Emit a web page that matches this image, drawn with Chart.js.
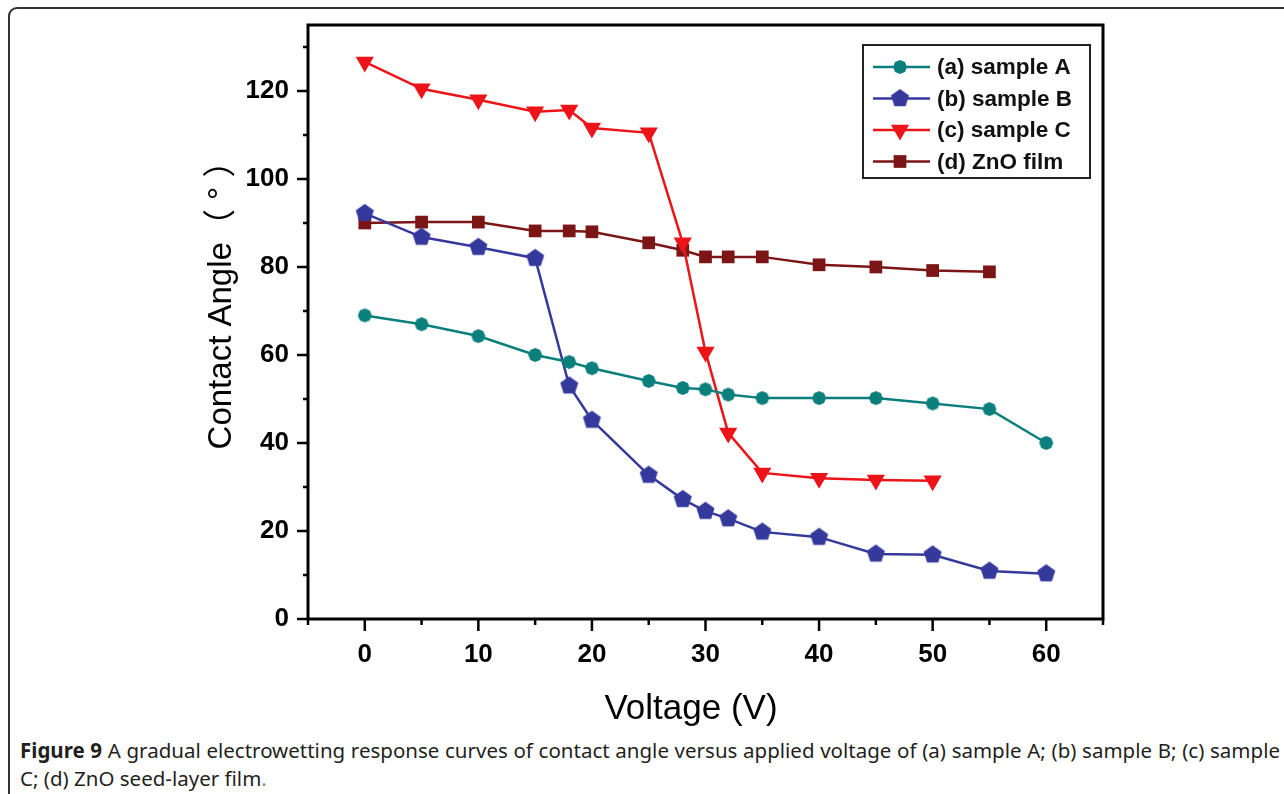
<!DOCTYPE html>
<html>
<head>
<meta charset="utf-8">
<script src="https://cdn.jsdelivr.net/npm/chart.js@4.4.1/dist/chart.umd.min.js"></script>
<style>
    html, body {
        margin: 0;
        padding: 0;
        background: #ffffff;
    }
    body {
        width: 1284px;
        height: 794px;
        position: relative;
        overflow: hidden;
    }
    .frame {
        position: absolute;
        left: 8px;
        top: 7px;
        width: 1300px;
        height: 820px;
        border-left: 2px solid #333;
        border-top: 2px solid #333;
        border-top-left-radius: 9px;
    }
    #chart {
        position: absolute;
        left: 0;
        top: 0;
    }
    .caption {
        position: absolute;
        left: 20px;
        top: 736px;
        width: 1260px;
        font-family: 'Noto Sans', 'Open Sans', sans-serif;
        font-size: 20.5px;
        line-height: 28px;
        color: #231f20;
    }
    .caption .line1 {
        white-space: nowrap;
        text-align: justify;
        text-align-last: justify;
    }
    .caption b {
        font-weight: 700;
    }
    .caption .dot {
        color: #888;
    }
</style>
</head>
<body>
<div class="frame"></div>
<canvas id="chart" width="1284" height="730"></canvas>
<div class="caption">
    <div class="line1"><b>Figure 9</b> A gradual electrowetting response curves of contact angle versus applied voltage of (a) sample A; (b) sample B; (c) sample</div>
    <div>C; (d) ZnO seed-layer film<span class="dot">.</span></div>
</div>

<script>
// Data
const voltage = [0, 5, 10, 15, 18, 20, 25, 28, 30, 32, 35, 40, 45, 50, 55, 60];
const sampleA = [69, 67, 64.3, 60, 58.4, 57, 54.1, 52.5, 52.2, 51, 50.2, 50.2, 50.2, 49, 47.7, 40];
const sampleB = [92.2, 86.8, 84.5, 82, 53, 45.2, 32.7, 27.2, 24.5, 22.8, 19.8, 18.6, 14.8, 14.6, 10.9, 10.3];
const sampleC = [126.6, 120.5, 118, 115.3, 115.7, 111.6, 110.5, 85.5, 60.7, 42.3, 33.2, 32, 31.6, 31.4];
const znoFilm = [90, 90.2, 90.2, 88.2, 88.2, 88, 85.5, 83.8, 82.3, 82.3, 82.3, 80.5, 80, 79.2, 78.9];

const seriesLabels = ['(a) sample A', '(b) sample B', '(c) sample C', '(d) ZnO film'];
const yTitle = 'Contact Angle\uFF08 \u00B0 \uFF09';
const xTitle = 'Voltage (V)';

const colors = {
    teal: '#0b7f7b',
    blue: '#35399c',
    red: '#ec1418',
    maroon: '#7c1616'
};

// Build a filled polygon marker on a small canvas (used as pointStyle)
function polygonMarker(sides, radius, color) {
    const size = Math.ceil(radius * 2 + 2);
    const c = document.createElement('canvas');
    c.width = size;
    c.height = size;
    const g = c.getContext('2d');
    g.fillStyle = color;
    g.beginPath();
    for (let i = 0; i < sides; i++) {
        const a = -Math.PI / 2 + i * 2 * Math.PI / sides;
        const px = size / 2 + Math.cos(a) * radius;
        const py = size / 2 + Math.sin(a) * radius;
        if (i === 0) g.moveTo(px, py); else g.lineTo(px, py);
    }
    g.closePath();
    g.fill();
    return c;
}

const markerA = polygonMarker(8, 7, colors.teal);
const markerB = polygonMarker(5, 9.5, colors.blue);

function pairs(ys) {
    return ys.map((y, i) => ({ x: voltage[i], y: y }));
}

function makeDataset(label, ys, color, style) {
    return {
        label: label,
        data: pairs(ys),
        borderColor: color,
        backgroundColor: color,
        borderWidth: 2.5,
        tension: 0,
        fill: false,
        pointStyle: style.pointStyle,
        pointRadius: style.radius,
        pointRotation: style.rotation || 0,
        pointBorderWidth: 0,
        pointBackgroundColor: color,
        pointBorderColor: color
    };
}

const datasets = [
    makeDataset(seriesLabels[0], sampleA, colors.teal, { pointStyle: markerA, radius: 7 }),
    makeDataset(seriesLabels[1], sampleB, colors.blue, { pointStyle: markerB, radius: 10 }),
    makeDataset(seriesLabels[2], sampleC, colors.red, { pointStyle: 'triangle', radius: 10.5, rotation: 180 }),
    makeDataset(seriesLabels[3], znoFilm, colors.maroon, { pointStyle: 'rect', radius: 9 })
];

// Frame, outward ticks (long major, short minor), axis titles and inset legend
const framePlugin = {
    id: 'originFrame',
    afterDraw(chart) {
        const ctx = chart.ctx;
        const area = chart.chartArea;
        const xs = chart.scales.x;
        const ys = chart.scales.y;

        ctx.save();
        ctx.strokeStyle = '#000';
        ctx.lineWidth = 3;
        ctx.strokeRect(area.left, area.top, area.right - area.left, area.bottom - area.top);

        ctx.lineWidth = 2.5;
        ctx.beginPath();
        xs.ticks.forEach(t => {
            const px = xs.getPixelForValue(t.value);
            const len = t.value % 10 === 0 ? 12 : 6;
            ctx.moveTo(px, area.bottom);
            ctx.lineTo(px, area.bottom + len);
        });
        ys.ticks.forEach(t => {
            const py = ys.getPixelForValue(t.value);
            const len = t.value % 20 === 0 ? 11 : 5;
            ctx.moveTo(area.left, py);
            ctx.lineTo(area.left - len, py);
        });
        ctx.stroke();

        // Axis titles
        ctx.fillStyle = '#000';
        ctx.textAlign = 'center';
        ctx.textBaseline = 'middle';
        ctx.font = '35px "Liberation Sans", Arial, "Noto Sans CJK SC", sans-serif';
        ctx.fillText(xTitle, 691, 709);

        ctx.save();
        ctx.translate(222, 297);
        ctx.rotate(-Math.PI / 2);
        ctx.font = '33px "Liberation Sans", Arial, "Noto Sans CJK SC", sans-serif';
        ctx.fillText(yTitle, 0, 0);
        ctx.restore();

        // Inset legend
        const boxLeft = area.right - 240;
        const boxTop = area.top + 20;
        const boxW = 227;
        const boxH = 133;
        ctx.fillStyle = '#fff';
        ctx.fillRect(boxLeft, boxTop, boxW, boxH);
        ctx.strokeStyle = '#222';
        ctx.lineWidth = 2;
        ctx.strokeRect(boxLeft, boxTop, boxW, boxH);

        ctx.font = 'bold 22.5px "Liberation Sans", Arial, sans-serif';
        ctx.textAlign = 'left';
        chart.data.datasets.forEach((ds, i) => {
            const rowY = boxTop + 22 + i * 31.5;
            ctx.strokeStyle = ds.borderColor;
            ctx.lineWidth = 2.5;
            ctx.beginPath();
            ctx.moveTo(boxLeft + 10, rowY);
            ctx.lineTo(boxLeft + 67, rowY);
            ctx.stroke();
            ctx.fillStyle = ds.backgroundColor;
            Chart.helpers.drawPoint(ctx, {
                pointStyle: ds.pointStyle,
                radius: ds.pointRadius,
                rotation: ds.pointRotation,
                borderWidth: 0
            }, boxLeft + 37, rowY);
            ctx.fillStyle = '#111';
            ctx.fillText(ds.label, boxLeft + 74, rowY + 1);
        });
        ctx.restore();
    }
};

new Chart(document.getElementById('chart'), {
    type: 'line',
    data: { datasets: datasets },
    options: {
        responsive: false,
        animation: false,
        layout: {
            padding: { left: 198, right: 181, top: 25, bottom: 31 }
        },
        plugins: {
            legend: { display: false },
            tooltip: { enabled: false }
        },
        scales: {
            x: {
                type: 'linear',
                min: -5,
                max: 65,
                grid: { display: false },
                border: { display: false },
                afterFit: scale => {
                    scale.height = 80;
                    scale.paddingLeft = 0;
                    scale.paddingRight = 0;
                },
                ticks: {
                    stepSize: 5,
                    includeBounds: false,
                    padding: 12,
                    color: '#000',
                    maxRotation: 0,
                    autoSkip: false,
                    font: { size: 26, weight: 'bold', family: '"Liberation Sans", Arial, sans-serif' },
                    callback: v => (v % 10 === 0 && v >= 0 && v <= 60) ? v : ''
                }
            },
            y: {
                min: 0,
                max: 135,
                grid: { display: false },
                border: { display: false },
                afterFit: scale => {
                    scale.width = 110;
                    scale.paddingTop = 0;
                    scale.paddingBottom = 0;
                },
                ticks: {
                    stepSize: 10,
                    includeBounds: false,
                    padding: 11,
                    color: '#000',
                    autoSkip: false,
                    font: { size: 26, weight: 'bold', family: '"Liberation Sans", Arial, sans-serif' },
                    callback: v => (v % 20 === 0 && v <= 120) ? v : ''
                }
            }
        }
    },
    plugins: [framePlugin]
});
</script>
</body>
</html>
